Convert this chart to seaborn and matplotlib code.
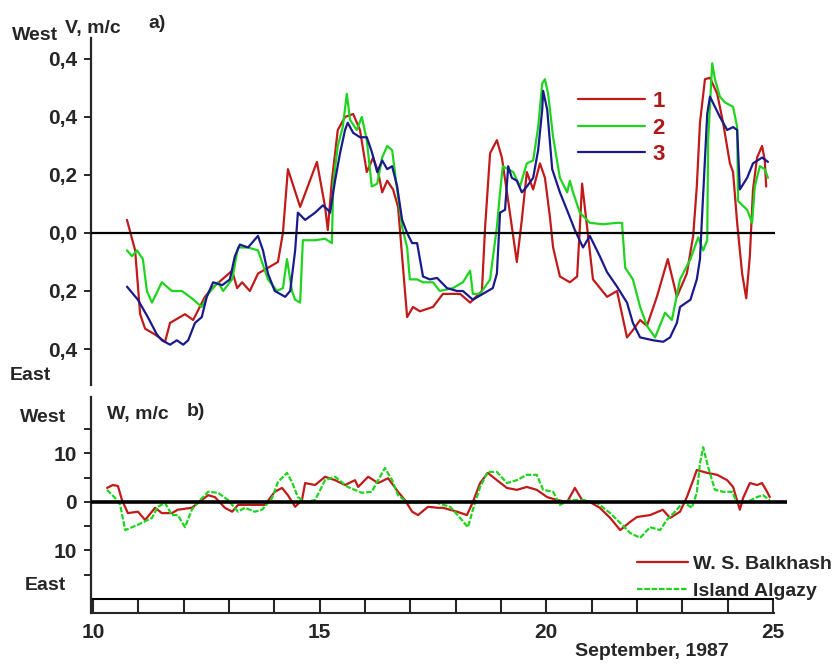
import pandas as pd
import matplotlib.pyplot as plt
import seaborn as sns

# ---- data ----
# top panel: V, m/c  (1, 2, 3)
red_day = [10.75, 10.93, 11.04, 11.15, 11.37, 11.59, 11.70, 11.81, 12.03, 12.21, 12.47, 12.63,
           12.85, 13.07, 13.18, 13.29, 13.46, 13.64, 13.86, 14.08, 14.19, 14.30, 14.57, 14.94,
           15.12, 15.18, 15.27, 15.40, 15.56, 15.74, 15.89, 16.04, 16.18, 16.29, 16.38, 16.49,
           16.62, 16.73, 16.84, 16.93, 17.06, 17.21, 17.50, 17.72, 18.10, 18.32, 18.58, 18.65,
           18.76, 18.91, 19.02, 19.16, 19.35, 19.46, 19.57, 19.71, 19.86, 19.97, 20.08, 20.15,
           20.30, 20.52, 20.68, 20.74, 20.79, 20.90, 21.03, 21.34, 21.56, 21.78, 21.91, 22.07,
           22.22, 22.44, 22.68, 22.88, 23.10, 23.24, 23.32, 23.39, 23.50, 23.61, 23.77, 23.90,
           24.05, 24.12, 24.21, 24.32, 24.41, 24.49, 24.56, 24.65, 24.76, 24.82, 24.85]
red_v = [0.045, -0.06, -0.28, -0.33, -0.35, -0.375, -0.31, -0.30, -0.28, -0.30, -0.22, -0.19,
         -0.16, -0.13, -0.19, -0.17, -0.20, -0.14, -0.12, -0.10, 0.00, 0.22, 0.09, 0.245,
         0.09, 0.01, 0.18, 0.355, 0.40, 0.41, 0.355, 0.21, 0.26, 0.21, 0.14, 0.18,
         0.15, 0.09, -0.12, -0.29, -0.255, -0.27, -0.255, -0.21, -0.21, -0.24, -0.20, 0.02,
         0.275, 0.32, 0.26, 0.11, -0.10, 0.045, 0.21, 0.15, 0.24, 0.19, 0.055, -0.05,
         -0.15, -0.17, -0.15, 0.02, 0.17, 0.02, -0.16, -0.22, -0.20, -0.36, -0.335, -0.30,
         -0.32, -0.22, -0.09, -0.22, -0.14, -0.01, 0.16, 0.38, 0.53, 0.535, 0.48, 0.38,
         0.24, 0.21, 0.035, -0.14, -0.225, -0.08, 0.15, 0.26, 0.30, 0.25, 0.16]

green_day = [10.75, 10.86, 10.97, 11.10, 11.19, 11.30, 11.52, 11.74, 11.96, 12.18, 12.40, 12.54,
             12.76, 12.87, 13.07, 13.20, 13.42, 13.64, 13.86, 14.06, 14.19, 14.28, 14.39, 14.46,
             14.57, 14.63, 14.90, 15.12, 15.27, 15.30, 15.40, 15.51, 15.60, 15.67, 15.82, 15.93,
             16.04, 16.15, 16.27, 16.38, 16.49, 16.60, 16.71, 16.82, 16.93, 16.99, 17.15, 17.28,
             17.50, 17.65, 17.94, 18.16, 18.32, 18.38, 18.54, 18.76, 18.91, 18.98, 19.04, 19.27,
             19.42, 19.57, 19.71, 19.82, 19.91, 19.97, 20.04, 20.15, 20.30, 20.46, 20.52, 20.59,
             20.74, 20.96, 21.25, 21.56, 21.67, 21.74, 21.91, 22.07, 22.22, 22.40, 22.62, 22.77,
             22.95, 23.18, 23.35, 23.46, 23.55, 23.57, 23.66, 23.72, 23.83, 23.94, 24.12, 24.21,
             24.23, 24.43, 24.54, 24.60, 24.71, 24.82, 24.89]
green_v = [-0.06, -0.08, -0.06, -0.09, -0.20, -0.24, -0.17, -0.20, -0.20, -0.225, -0.255, -0.21,
           -0.17, -0.20, -0.16, -0.05, -0.05, -0.06, -0.16, -0.20, -0.19, -0.09, -0.20, -0.23,
           -0.24, -0.025, -0.025, -0.02, -0.035, 0.17, 0.30, 0.365, 0.48, 0.39, 0.355, 0.40,
           0.32, 0.16, 0.17, 0.26, 0.30, 0.285, 0.15, 0.02, -0.05, -0.16, -0.16, -0.17,
           -0.17, -0.20, -0.19, -0.17, -0.13, -0.21, -0.21, -0.16, 0.02, 0.14, 0.23, 0.21,
           0.16, 0.24, 0.25, 0.365, 0.515, 0.53, 0.48, 0.33, 0.19, 0.14, 0.18, 0.14,
           0.07, 0.035, 0.03, 0.035, 0.035, -0.12, -0.16, -0.255, -0.32, -0.36, -0.275, -0.30,
           -0.16, -0.09, -0.015, -0.06, -0.025, 0.32, 0.585, 0.53, 0.47, 0.45, 0.435, 0.365,
           0.11, 0.08, 0.035, 0.16, 0.23, 0.22, 0.19]

blue_day = [10.75, 10.99, 11.21, 11.41, 11.52, 11.70, 11.85, 11.99, 12.10, 12.25, 12.40, 12.51,
            12.65, 12.85, 13.02, 13.13, 13.24, 13.42, 13.64, 13.75, 13.86, 14.01, 14.24, 14.35,
            14.46, 14.52, 14.68, 14.90, 15.07, 15.18, 15.23, 15.34, 15.45, 15.56, 15.62, 15.74,
            15.89, 16.04, 16.15, 16.27, 16.38, 16.49, 16.60, 16.71, 16.82, 16.93, 17.04, 17.15,
            17.28, 17.43, 17.59, 17.81, 18.03, 18.16, 18.38, 18.60, 18.82, 18.91, 18.98, 19.09,
            19.16, 19.24, 19.35, 19.46, 19.57, 19.71, 19.82, 19.91, 19.93, 20.02, 20.13, 20.30,
            20.48, 20.63, 20.81, 20.96, 21.18, 21.34, 21.56, 21.78, 21.91, 22.07, 22.36, 22.58,
            22.73, 22.88, 22.95, 23.18, 23.32, 23.39, 23.44, 23.55, 23.61, 23.72, 23.83, 23.99,
            24.12, 24.21, 24.27, 24.43, 24.56, 24.76, 24.89]
blue_v = [-0.185, -0.23, -0.29, -0.35, -0.37, -0.385, -0.37, -0.385, -0.37, -0.31, -0.29, -0.22,
          -0.17, -0.18, -0.16, -0.08, -0.04, -0.05, -0.01, -0.06, -0.14, -0.20, -0.22, -0.20,
          -0.06, 0.07, 0.045, 0.07, 0.095, 0.08, 0.07, 0.18, 0.275, 0.355, 0.38, 0.345,
          0.33, 0.33, 0.28, 0.21, 0.25, 0.22, 0.23, 0.16, 0.045, 0.0, -0.035, -0.035,
          -0.15, -0.16, -0.155, -0.19, -0.20, -0.20, -0.23, -0.21, -0.19, -0.14, 0.07, 0.08,
          0.23, 0.19, 0.18, 0.14, 0.16, 0.19, 0.285, 0.425, 0.49, 0.425, 0.22, 0.14,
          0.07, 0.01, -0.05, -0.01, -0.08, -0.135, -0.185, -0.24, -0.31, -0.36, -0.37, -0.375,
          -0.36, -0.31, -0.255, -0.23, -0.16, -0.09, 0.07, 0.41, 0.47, 0.435, 0.40, 0.355,
          0.365, 0.355, 0.15, 0.19, 0.24, 0.26, 0.245]

# bottom panel: W, m/c
bal_day = [10.31, 10.44, 10.55, 10.64, 10.77, 10.99, 11.15, 11.37, 11.52, 11.74, 11.87, 12.18,
           12.40, 12.54, 12.69, 12.91, 13.07, 13.20, 13.51, 13.79, 14.01, 14.17, 14.30, 14.46,
           14.61, 14.68, 14.90, 15.12, 15.34, 15.56, 15.78, 15.85, 16.07, 16.29, 16.51, 16.73,
           16.88, 17.04, 17.17, 17.39, 17.61, 17.72, 18.03, 18.25, 18.38, 18.54, 18.71, 18.91,
           19.13, 19.35, 19.57, 19.79, 20.02, 20.24, 20.46, 20.63, 20.79, 20.96, 21.18, 21.41,
           21.63, 21.85, 22.00, 22.29, 22.57, 22.73, 22.95, 23.10, 23.24, 23.32, 23.55, 23.77,
           23.99, 24.12, 24.27, 24.34, 24.49, 24.65, 24.76, 24.87, 24.93]
bal_w = [2.9, 3.5, 3.3, 0.4, -2.3, -2.0, -3.7, -1.2, -2.3, -2.3, -1.6, -1.2,
         0.4, 1.4, 1.0, -1.2, -2.0, -0.6, -0.6, -0.6, 2.1, 2.9, 1.4, -1.0,
         0.4, 3.9, 3.5, 5.2, 4.5, 3.5, 4.5, 3.1, 5.2, 3.9, 4.9, 2.1,
         0.4, -2.0, -2.7, -1.0, -1.2, -1.2, -2.0, -2.7, 0.0, 3.9, 6.0, 4.5,
         2.9, 2.5, 3.1, 2.5, 1.0, 0.4, 0.0, 2.9, 0.4, 0.0, -1.2, -3.3,
         -5.8, -4.1, -3.1, -2.7, -1.6, -3.3, -2.0, 1.0, 4.5, 6.6, 6.0, 5.6,
         4.5, 3.1, -1.6, 0.8, 3.9, 3.5, 3.9, 2.1, 1.0]

alg_day = [10.31, 10.49, 10.60, 10.71, 10.99, 11.30, 11.43, 11.59, 11.74, 11.87, 12.03, 12.18,
           12.32, 12.54, 12.76, 12.98, 13.20, 13.35, 13.57, 13.73, 13.95, 14.08, 14.28, 14.39,
           14.52, 14.68, 14.90, 15.12, 15.34, 15.62, 15.93, 16.15, 16.29, 16.44, 16.60, 16.73,
           16.95, 17.26, 17.48, 17.59, 17.88, 18.10, 18.27, 18.38, 18.54, 18.71, 18.91, 19.13,
           19.35, 19.57, 19.79, 19.93, 20.15, 20.30, 20.52, 20.81, 21.12, 21.41, 21.63, 21.85,
           22.07, 22.29, 22.51, 22.66, 22.88, 23.02, 23.21, 23.32, 23.39, 23.46, 23.57, 23.72,
           23.90, 24.10, 24.21, 24.43, 24.65, 24.78, 24.93]
alg_w = [2.5, 0.8, -0.6, -5.8, -4.7, -3.3, -1.0, -0.2, -2.7, -2.7, -5.2, -1.6,
         0.0, 2.1, 1.9, 0.4, -2.0, -1.2, -2.0, -1.6, 0.8, 4.1, 6.0, 4.1,
         1.0, 0.0, 0.4, 4.5, 5.2, 3.1, 1.9, 2.1, 4.5, 7.0, 4.5, 1.4,
         -0.2, -0.2, 0.0, -0.2, -1.0, -3.3, -5.2, -1.6, 3.1, 6.2, 6.2, 3.9,
         4.5, 5.6, 5.6, 2.5, 2.1, -0.6, 0.4, 0.4, -0.2, -2.3, -4.3, -6.4,
         -7.4, -5.2, -5.8, -3.7, -1.6, 0.0, -1.2, 1.9, 8.0, 11.3, 7.2, 2.5,
         2.1, 2.1, -0.2, 0.0, 1.0, 1.4, 0.4]

v_ticks = [0.6, 0.4, 0.2, 0.0, -0.2, -0.4]
v_ticklabels = ["0,4", "0,4", "0,2", "0,0", "0,2", "0,4"]
w_ticks = [10, 0, -10]
w_ticklabels = ["10", "0", "10"]
day_labels = [10, 15, 20, 25]

RED = "#c01a1a"
GREEN = "#1fd41f"
BLUE = "#1a1a8c"

top = pd.concat([
    pd.DataFrame({"day": red_day, "v": red_v, "series": "1"}),
    pd.DataFrame({"day": green_day, "v": green_v, "series": "2"}),
    pd.DataFrame({"day": blue_day, "v": blue_v, "series": "3"}),
])
bot = pd.concat([
    pd.DataFrame({"day": bal_day, "w": bal_w, "station": "W. S. Balkhash"}),
    pd.DataFrame({"day": alg_day, "w": alg_w, "station": "Island Algazy"}),
])

sns.set_style("ticks")
plt.rcParams['font.family'] = ['Liberation Sans', 'DejaVu Sans']
plt.rcParams['font.weight'] = 'bold'

fig = plt.figure(figsize=(8.37, 6.67), dpi=100)
ax1 = fig.add_axes([0.1087, 0.4228, 0.8351, 0.5202])
ax2 = fig.add_axes([0.1087, 0.0810, 0.8351, 0.3238])

x0, x1 = 9.956, 25.375

# top panel
sns.lineplot(data=top, x="day", y="v", hue="series",
             palette={"1": RED, "2": GREEN, "3": BLUE},
             sort=False, estimator=None, lw=1.6, ax=ax1, legend=False)
ax1.hlines(0, x0, 25.05, color="black", lw=1.6, zorder=5)
ax1.set_xlim(x0, x1)
ax1.set_ylim(-0.524, 0.672)
ax1.set_yticks(v_ticks)
ax1.set_yticklabels(v_ticklabels, fontsize=15, fontweight='bold')
ax1.tick_params(axis='y', length=5, width=1.4, pad=5)
ax1.set_xticks([])
for s in ["top", "right", "bottom"]:
    ax1.spines[s].set_visible(False)
ax1.spines["left"].set_linewidth(1.6)
ax1.set_xlabel("")
ax1.set_ylabel("")
ax1.legend(handles=ax1.lines[:3], labels=["1", "2", "3"],
           loc="upper left", bbox_to_anchor=(578 / 837, 1 - 91 / 667),
           bbox_transform=fig.transFigure, frameon=False,
           handlelength=3.0, handletextpad=0.35,
           labelspacing=0.25, borderpad=0, borderaxespad=0,
           labelcolor="#b01818", prop={'weight': 'bold', 'size': 16})

# bottom panel
sns.lineplot(data=bot, x="day", y="w", hue="station", style="station",
             palette={"W. S. Balkhash": RED, "Island Algazy": GREEN},
             dashes={"W. S. Balkhash": "", "Island Algazy": (2.5, 0.8)},
             sort=False, estimator=None, lw=1.6, ax=ax2, legend=False)
ax2.hlines(0, x0, 25.3, color="black", lw=2.6, zorder=5)
ax2.hlines(-20, x0, 25.02, color="black", lw=1.5)
ax2.set_xlim(x0, x1)
ax2.set_ylim(-22.89, 21.65)
ax2.set_yticks(w_ticks)
ax2.set_yticks([15, 5, -5, -15], minor=True)
ax2.set_yticklabels(w_ticklabels, fontsize=15, fontweight='bold')
ax2.tick_params(axis='y', which='both', length=5, width=1.4, pad=5)
ax2.set_xticks(day_labels)
ax2.set_xticks([d for d in range(10, 26) if d not in day_labels], minor=True)
ax2.set_xticklabels([str(d) for d in day_labels], fontsize=15, fontweight='bold')
ax2.tick_params(axis='x', which='both', direction='in', length=10, width=1.5, pad=7)
for s in ["top", "right"]:
    ax2.spines[s].set_visible(False)
ax2.spines["left"].set_linewidth(1.6)
ax2.spines["bottom"].set_linewidth(1.5)
ax2.spines["bottom"].set_bounds(x0, 25.02)
ax2.set_xlabel("")
ax2.set_ylabel("")
ax2.legend(handles=ax2.lines[:2], labels=["W. S. Balkhash", "Island Algazy"],
           loc="upper left", bbox_to_anchor=(637 / 837, 1 - 555 / 667),
           bbox_transform=fig.transFigure, frameon=False,
           handlelength=2.6, handletextpad=0.3, labelspacing=0.5,
           borderpad=0, borderaxespad=0, prop={'weight': 'bold', 'size': 14})

# annotations
def ftxt(x, y, s, size=14, ha="left"):
    fig.text(x / 837, 1 - y / 667, s, fontsize=size, fontweight='bold',
             ha=ha, va="center")

ftxt(12, 35, "West")
ftxt(65, 29, "V, m/c")
ftxt(148, 23, "a)")
ftxt(10, 376, "East")
ftxt(20, 418, "West")
ftxt(107, 414, "W, m/c")
ftxt(187, 412, "b)")
ftxt(25, 585, "East")
ftxt(575, 651, "September, 1987")

fig.savefig("out.png", dpi=100)
